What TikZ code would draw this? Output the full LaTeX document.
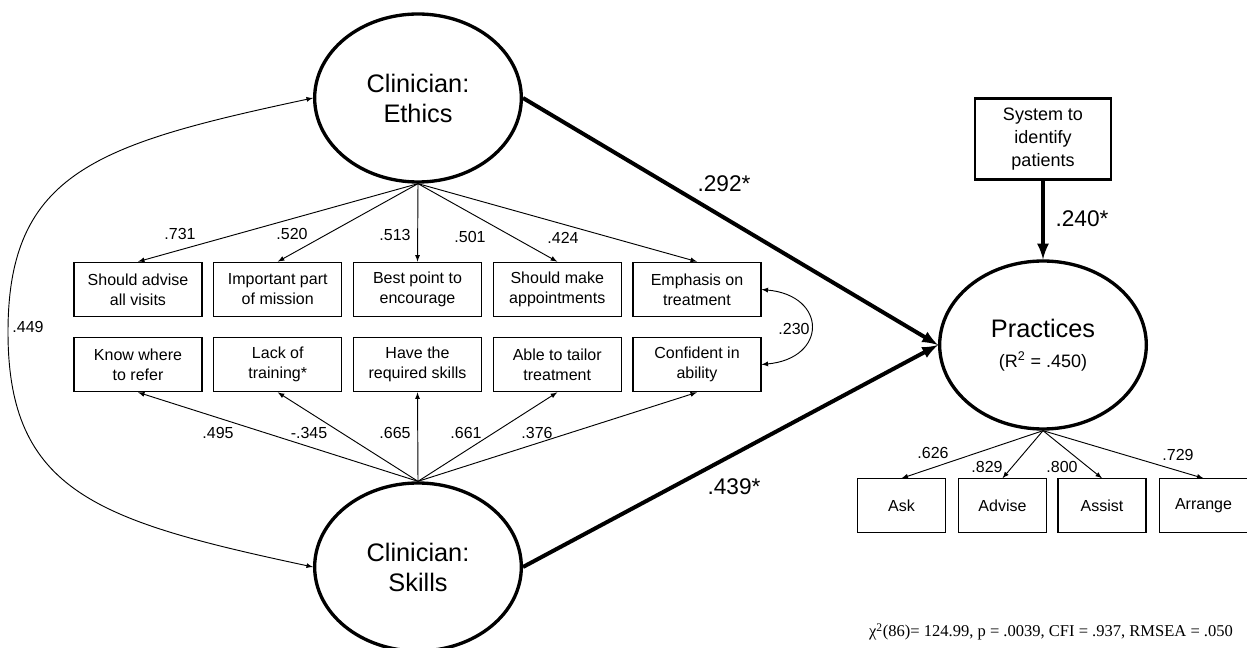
\documentclass[tikz,border=0pt]{standalone}
\usepackage{fontspec}
\setmainfont{Liberation Sans}
\newfontfamily\timesfont{Liberation Serif}
\usetikzlibrary{shapes.geometric}

\tikzset{
  latent/.style={ellipse, draw, line width=2.5pt, minimum width=155pt, minimum height=126pt,
    inner sep=0pt, align=center, font=\fontsize{19}{22.5}\selectfont},
  indicator/.style={rectangle, draw, line width=0.8pt, minimum width=96pt, minimum height=41pt,
    inner sep=1pt, align=center, font=\fontsize{12}{15}\selectfont},
  outcome/.style={indicator, minimum width=66pt, minimum height=40pt},
  loading/.style={-latex, line width=0.7pt},
  effect/.style={-latex, line width=3pt},
  coef/.style={inner sep=0pt, font=\fontsize{12}{14}\selectfont},
  bigcoef/.style={inner sep=0pt, font=\fontsize{17}{20}\selectfont},
}

\begin{document}
\begin{tikzpicture}[x=0.75pt,y=-0.75pt]
\useasboundingbox (0,0) rectangle (1247,648);

% latent variables
\node[latent] (eth) at (418,98) {Clinician:\\Ethics};
\node[latent] (skl) at (418,567) {Clinician:\\Skills};
\node[latent] (prac) at (1043,345) {Practices\\{\fontsize{13.5}{16}\selectfont(R\textsuperscript{2} = .450)}};
\node[draw, line width=2.2pt, minimum width=102pt, minimum height=61pt, inner sep=1pt, align=center,
  font=\fontsize{13.5}{17}\selectfont] (sys) at (1043,139) {System to\\identify\\patients};

% ethics items
\foreach \i/\txt in {1/{Should advise\\all visits}, 2/{Important  part\\of mission},
    3/{Best point to\\encourage}, 4/{Should make\\appointments}, 5/{Emphasis on\\treatment}}
  \node[indicator] (e\i) at ({138+139.75*(\i-1)},289.5) {\txt};

% skills items
\foreach \i/\txt in {1/{Know where\\to refer}, 2/{Lack of\\training*},
    3/{Have the\\required skills}, 4/{Able to tailor\\treatment}, 5/{Confident in\\ability}}
  \node[indicator] (s\i) at ({138+139.75*(\i-1)},364.5) {\txt};

% practice items
\foreach \i/\txt/\x in {1/Ask/901.5, 2/Advise/1002.5, 3/Assist/1102, 4/Arrange/1203.5}
  \node[outcome] (p\i) at (\x,505.5) {\txt};

% loadings
\foreach \i/\v/\lx/\ly in {1/.731/180/234, 2/.520/292/234, 3/.513/395/235, 4/.501/470/237, 5/.424/563/238}{
  \draw[loading] (eth.south) -- (e\i.north);
  \node[coef] (le\i) at (\lx,\ly) {\v};
}
\foreach \i/\v/\lx/\ly in {1/.495/218/433, 2/-.345/309/433, 3/.665/395/433, 4/.661/466/433, 5/.376/537/433}{
  \draw[loading] (skl.north) -- (s\i.south);
  \node[coef] (ls\i) at (\lx,\ly) {\v};
}
\foreach \i/\v/\lx/\ly in {1/.626/933/453, 2/.829/987/467, 3/.800/1062/467, 4/.729/1178/455}{
  \draw[loading] (prac.south) -- (p\i.north);
  \node[coef] (lp\i) at (\lx,\ly) {\v};
}

% structural paths
\draw[effect] (eth.east) -- (prac.west);
\draw[effect] (skl.east) -- (prac.west);
\draw[effect] (sys.south) -- (prac.north);
\node[bigcoef] (b1) at (724,184) {.292*};
\node[bigcoef] (b2) at (734,487) {.439*};
\node[bigcoef] (b3) at (1082,219) {.240*};

% covariances
\draw[latex-latex, line width=0.7pt] (eth.west) .. controls +(-215,46) and (8,172) .. (8,332)
  .. controls (8,492) and +(-215,-46) .. (skl.west);
\node[coef] (c1) at (28,327) {.449};
\draw[latex-latex, line width=0.7pt] (e5.east) .. controls +(66,6) and +(66,-6) .. (s5.east);
\node[coef] (c2) at (794,329) {.230};

% fit
\node[font=\timesfont\fontsize{12.4}{14}\selectfont] (fit) at (1051,632)
  {χ\textsuperscript{2}(86)= 124.99, p = .0039, CFI = .937, RMSEA = .050};
\end{tikzpicture}
\end{document}
